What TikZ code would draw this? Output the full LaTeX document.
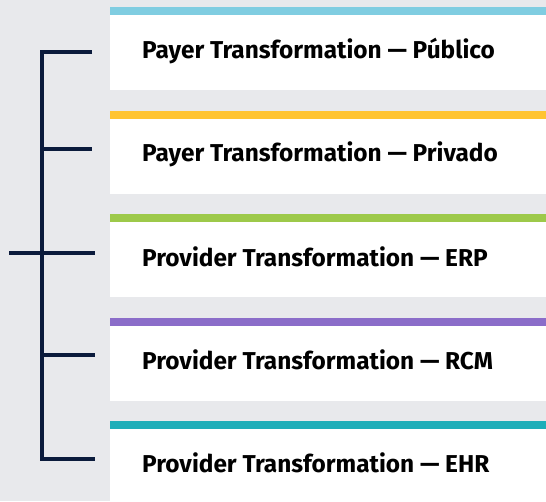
\documentclass[tikz,border=0pt]{standalone}
\usepackage{fontspec}
\setmainfont{Fira Sans}
\usepackage{tikz}
\definecolor{bggray}{HTML}{E8E9EC}
\definecolor{navy}{HTML}{0B1B3C}
\definecolor{barblue}{HTML}{80CDE1}
\definecolor{baryellow}{HTML}{FFC431}
\definecolor{bargreen}{HTML}{9DC94A}
\definecolor{barpurple}{HTML}{8B6DC9}
\definecolor{barteal}{HTML}{1EAEB9}

\tikzset{
  card/.style={anchor=north west,rectangle,fill=white,minimum width=436pt,minimum height=75pt,inner sep=0pt},
  cardtext/.style={anchor=west,inner sep=0pt,font=\bfseries\fontsize{24.4}{28}\selectfont,text=black},
  bar/.style={line width=8pt},
  bracket/.style={navy,line width=4pt}
}

\begin{document}
\begin{tikzpicture}[x=1pt,y=-1pt]
 \fill[bggray] (0,0) rectangle (546,501);
 \useasboundingbox (0,0) rectangle (546,501);
 % cards
 \node[card] (publico) at (110,15) {};
 \node[card] (privado) at (110,118.5) {};
 \node[card] (erp) at (110,222) {};
 \node[card] (rcm) at (110,325.5) {};
 \node[card,minimum height=72pt] (ehr) at (110,429) {};
 % colour bars
 \draw[bar,barblue] ([yshift=4pt]publico.north west) -- ([yshift=4pt]publico.north east);
 \draw[bar,baryellow] ([yshift=4pt]privado.north west) -- ([yshift=4pt]privado.north east);
 \draw[bar,bargreen] ([yshift=4pt]erp.north west) -- ([yshift=4pt]erp.north east);
 \draw[bar,barpurple] ([yshift=4pt]rcm.north west) -- ([yshift=4pt]rcm.north east);
 \draw[bar,barteal] ([yshift=4pt]ehr.north west) -- ([yshift=4pt]ehr.north east);
 % labels
 \node[cardtext] (tpublico) at (142,51) {Payer Transformation — Público};
 \node[cardtext] (tprivado) at (142,154) {Payer Transformation — Privado};
 \node[cardtext] (terp) at (142,257) {Provider Transformation — ERP};
 \node[cardtext] (trcm) at (142,360) {Provider Transformation — RCM};
 \node[cardtext] (tehr) at (142,463) {Provider Transformation — EHR};
 % bracket
 \coordinate (k1) at (44,52);
 \coordinate (k2) at (44,149);
 \coordinate (k3) at (44,253);
 \coordinate (k4) at (44,355);
 \coordinate (k5) at (44,459);
 \coordinate (e1) at (92,52);
 \coordinate (e2) at (92,149);
 \coordinate (e3) at (95,253);
 \coordinate (e4) at (95,355);
 \coordinate (e5) at (95,459);
 \coordinate (s3) at (9,253);
 \draw[bracket] (e1) -- ([xshift=-2pt]k1) |- ([xshift=-2pt]k5) -- (e5);
 \draw[bracket] (k2) -- (e2);
 \draw[bracket] (s3) -- (e3);
 \draw[bracket] (k4) -- (e4);

\end{tikzpicture}
\end{document}
